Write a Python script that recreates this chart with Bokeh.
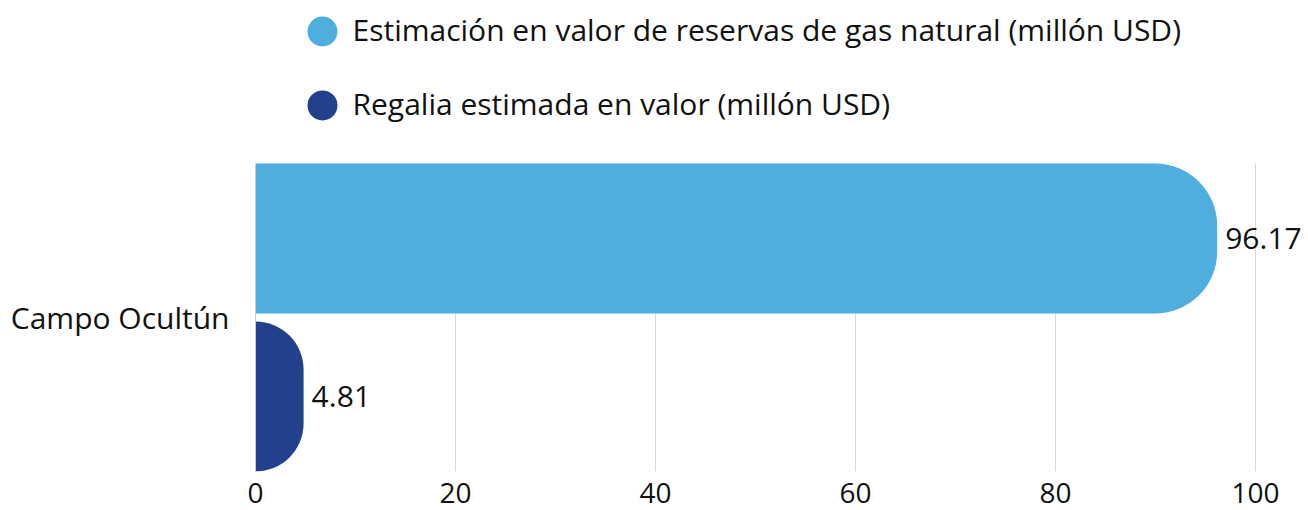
from bokeh.plotting import figure
from bokeh.models import Range1d, FixedTicker, ColumnDataSource
from bokeh.core.properties import value
from bokeh.embed import file_html
from bokeh.resources import INLINE

# ---- data ----
categories = ["Campo Ocultún"]
series_names = [
    "Estimación en valor de reservas de gas natural (millón USD)",
    "Regalia estimada en valor (millón USD)",
]
reservas = [96.17]
regalia = [4.81]
x_ticks = [0, 20, 40, 60, 80, 100]
colors = ["#4EAEDE", "#23408C"]

FONT = "Open Sans"
TEXT_COLOR = "#111111"

# ---- layout constants (data units) ----
cat_pos = list(range(len(categories)))
band_lo, band_hi = -1.0, 1.0          # band occupied by the category
offset = 0.513
bar_h = 0.974
y_top = 2.0584                        # extra room above the band for the legend
legend_y = [1.857, 1.377]
legend_x_marker = 6.7
legend_x_text = 9.7

p = figure(width=1308, height=510, x_range=Range1d(0, 105.3), y_range=Range1d(band_lo, y_top),
           toolbar_location=None, output_backend="svg",
           min_border_left=255, min_border_right=0, min_border_top=0, min_border_bottom=39)
p.outline_line_color = None

# grid lines limited to the bar band
p.segment(x0=x_ticks, y0=[band_lo] * len(x_ticks), x1=x_ticks, y1=[band_hi] * len(x_ticks),
          line_color="#d9d9d9", line_width=1)

src1 = ColumnDataSource(dict(y=[c + offset for c in cat_pos], v=reservas,
                             lbl=[f"{v:.2f}" for v in reservas]))
src2 = ColumnDataSource(dict(y=[c - offset for c in cat_pos], v=regalia,
                             lbl=[f"{v:.2f}" for v in regalia]))

p.hbar(y="y", left=0, right="v", height=bar_h, source=src1, fill_color=colors[0],
       line_color=None, border_radius=(0, 62, 62, 0))
p.hbar(y="y", left=0, right="v", height=bar_h, source=src2, fill_color=colors[1],
       line_color=None, border_radius=(0, 62, 62, 0))
for s in (src1, src2):
    p.text(x="v", y="y", text="lbl", source=s, x_offset=8, text_font=value(FONT),
           text_font_size="30px", text_baseline="middle", text_align="left",
           text_color=TEXT_COLOR)

# legend
p.scatter(x=[legend_x_marker] * 2, y=legend_y, size=30, fill_color=colors, line_color=None)
p.text(x=[legend_x_text] * 2, y=legend_y, text=series_names, text_font=value(FONT),
       text_font_size="30px", text_baseline="middle", text_align="left",
       text_color=TEXT_COLOR, y_offset=-2)

p.xaxis.ticker = FixedTicker(ticks=x_ticks)
p.xaxis.axis_line_color = None
p.xaxis.major_tick_line_color = None
p.xaxis.minor_tick_line_color = None
p.xaxis.major_label_text_font = FONT
p.xaxis.major_label_text_font_size = "28px"
p.xaxis.major_label_text_color = TEXT_COLOR
p.xaxis.major_label_standoff = 5

p.yaxis.ticker = FixedTicker(ticks=cat_pos)
p.yaxis.bounds = (band_lo, band_hi)
p.yaxis.major_label_overrides = {c: categories[c] for c in cat_pos}
p.yaxis.axis_line_color = "#cccccc"
p.yaxis.major_tick_line_color = None
p.yaxis.minor_tick_line_color = None
p.yaxis.major_label_text_font = FONT
p.yaxis.major_label_text_font_size = "30px"
p.yaxis.major_label_text_color = TEXT_COLOR
p.yaxis.major_label_standoff = 20

p.grid.visible = False

open("out.html", "w").write(file_html(p, INLINE))
